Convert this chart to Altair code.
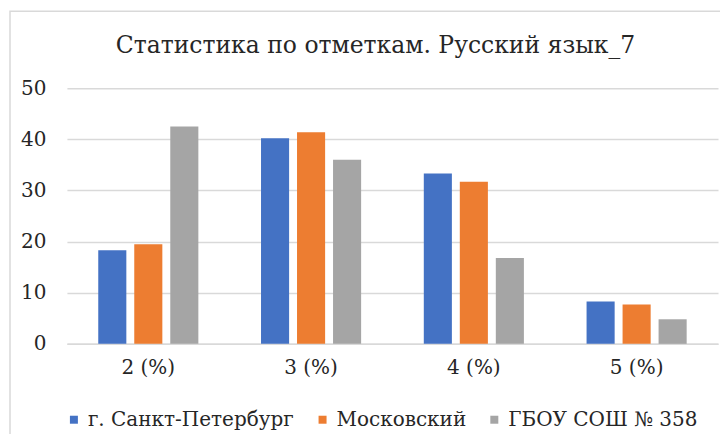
import altair as alt
import pandas as pd

categories = ["2 (%)", "3 (%)", "4 (%)", "5 (%)"]
series = ["г. Санкт-Петербург", "Московский", "ГБОУ СОШ № 358"]
spb = [18.3, 40.2, 33.3, 8.3]
moscow = [19.5, 41.4, 31.7, 7.7]
school = [42.5, 36.0, 16.8, 4.8]
colors = ["#4472C4", "#ED7D31", "#A5A5A5"]
title_text = "Статистика по отметкам. Русский язык_7"

rows = []
for s, vals in zip(series, [spb, moscow, school]):
    for c, v in zip(categories, vals):
        rows.append({"cat": c, "series": s, "value": v})
df = pd.DataFrame(rows)

FONT = "DejaVu Serif"

bars = alt.Chart(df).mark_bar().encode(
    x=alt.X("cat:N", sort=categories, title=None,
            scale=alt.Scale(paddingInner=0.385, paddingOuter=0.1925),
            axis=alt.Axis(labelAngle=0, labelFont=FONT, labelFontSize=20,
                          labelColor="#262626", labelPadding=14, ticks=False,
                          domainColor="#d9d9d9", domainWidth=1.5)),
    xOffset=alt.XOffset("series:N", sort=series,
                        scale=alt.Scale(paddingInner=0.22, paddingOuter=0)),
    y=alt.Y("value:Q", title=None,
            scale=alt.Scale(domain=[0, 50], nice=False),
            axis=alt.Axis(values=[0, 10, 20, 30, 40, 50], labelFont=FONT,
                          labelFontSize=20, labelColor="#262626", labelPadding=21,
                          ticks=False, domain=False, gridColor="#d9d9d9",
                          gridWidth=1.5)),
    color=alt.Color("series:N", sort=series,
                    scale=alt.Scale(domain=series, range=colors),
                    legend=alt.Legend(title=None, orient="none", direction="horizontal",
                                      legendX=-3, legendY=322, padding=0,
                                      symbolType="square",
                                      symbolSize=64, symbolStrokeWidth=0,
                                      labelFont=FONT, labelFontSize=20, labelLimit=0,
                                      labelColor="#262626", columnPadding=18,
                                      labelOffset=4)),
)

frame = alt.Chart(pd.DataFrame({"a": [0]})).mark_rect(
    fill=None, stroke="#d9d9d9", strokeWidth=1.5
).encode(
    x=alt.value(-57), x2=alt.value(680), y=alt.value(-77), y2=alt.value(380)
)

title = alt.Chart(pd.DataFrame({"t": [title_text]})).mark_text(
    font=FONT, fontSize=23.5, color="#262626", align="center", baseline="alphabetic"
).encode(
    text="t:N", x=alt.value(309), y=alt.value(-35)
)

chart = alt.layer(frame, bars, title).properties(
    width=652, height=256,
    autosize=alt.AutoSizeParams(type="none"),
    padding={"left": 59, "top": 80, "right": 2, "bottom": 90},
).configure_view(stroke=None)

chart.save("out.html", embed_options={"renderer": "svg", "actions": False})
